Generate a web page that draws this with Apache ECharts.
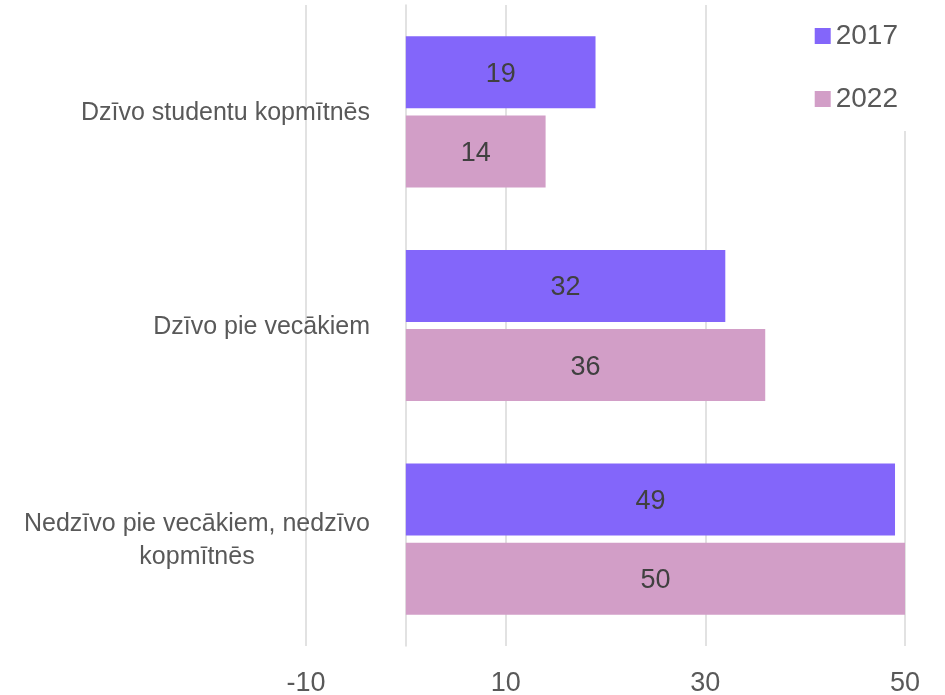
<!DOCTYPE html>
<html>
<head>
<meta charset="utf-8">
<script src="https://cdn.jsdelivr.net/npm/echarts@6/dist/echarts.min.js"></script>
<style>
    html, body { margin: 0; padding: 0; background: #fff; }
    #chart { width: 945px; height: 695px; }
</style>
</head>
<body>
<div id="chart"></div>
<script>
    var categories = ['Dzīvo studentu kopmītnēs', 'Dzīvo pie vecākiem', 'Nedzīvo pie vecākiem, nedzīvo kopmītnēs'];
    var seriesNames = ['2017', '2022'];
    var values2017 = [19, 32, 49];
    var values2022 = [14, 36, 50];
    var colors = ['#8366FA', '#D29EC7'];

    (function () {
        var myChart = echarts.init(document.getElementById('chart'));
        var font = 'Liberation Sans';

        // break long category names into lines of ~30 chars
        var wrap = function (text) {
            var words = text.split(' '), lines = [], cur = '';
            for (var i = 0; i < words.length; i++) {
                var next = cur ? cur + ' ' + words[i] : words[i];
                if (next.length > 30 && cur) {
                    lines.push(cur);
                    cur = words[i];
                } else {
                    cur = next;
                }
            }
            lines.push(cur);
            return lines.map(function (l) { return '{c|' + l + '}'; }).join('\n');
        };

        var option = {
            backgroundColor: '#fff',
            color: colors,
            textStyle: { fontFamily: font },
            legend: {
                data: seriesNames,
                orient: 'vertical',
                right: 35,
                top: 0,
                padding: [22, 12, 18, 10],
                backgroundColor: '#fff',
                icon: 'rect',
                itemWidth: 16,
                itemHeight: 16,
                itemGap: 35,
                textStyle: { fontFamily: font, fontSize: 28, lineHeight: 28, color: '#595959' }
            },
            grid: {
                left: 306,
                right: 40,
                top: 5,
                bottom: 49,
                containLabel: false,
                outerBoundsMode: 'none'
            },
            xAxis: {
                type: 'value',
                min: -10,
                max: 50,
                interval: 20,
                axisLine: { show: false },
                axisTick: { show: false },
                axisLabel: { fontFamily: font, fontSize: 27, color: '#595959', margin: 24 },
                splitLine: { show: true, lineStyle: { color: '#d9d9d9', width: 1.5 } }
            },
            yAxis: {
                type: 'category',
                inverse: true,
                data: categories,
                axisLine: { show: true, onZero: true, lineStyle: { color: '#d9d9d9', width: 1.5 } },
                axisTick: { show: false },
                axisLabel: {
                    margin: -64,
                    align: 'right',
                    formatter: wrap,
                    rich: {
                        c: { fontFamily: font, fontSize: 25, lineHeight: 33, color: '#595959', align: 'center', padding: [3, 0, 0, 0] }
                    }
                }
            },
            series: [
                {
                    name: seriesNames[0],
                    type: 'bar',
                    data: values2017,
                    barWidth: 72,
                    barGap: '10%',
                    label: { show: true, position: 'inside', offset: [0, 2], fontFamily: font, fontSize: 27, color: '#404040' }
                },
                {
                    name: seriesNames[1],
                    type: 'bar',
                    data: values2022,
                    barWidth: 72,
                    barGap: '10%',
                    label: { show: true, position: 'inside', offset: [0, 2], fontFamily: font, fontSize: 27, color: '#404040' }
                }
            ]
        };
        myChart.setOption(option);
    }());
</script>
</body>
</html>
